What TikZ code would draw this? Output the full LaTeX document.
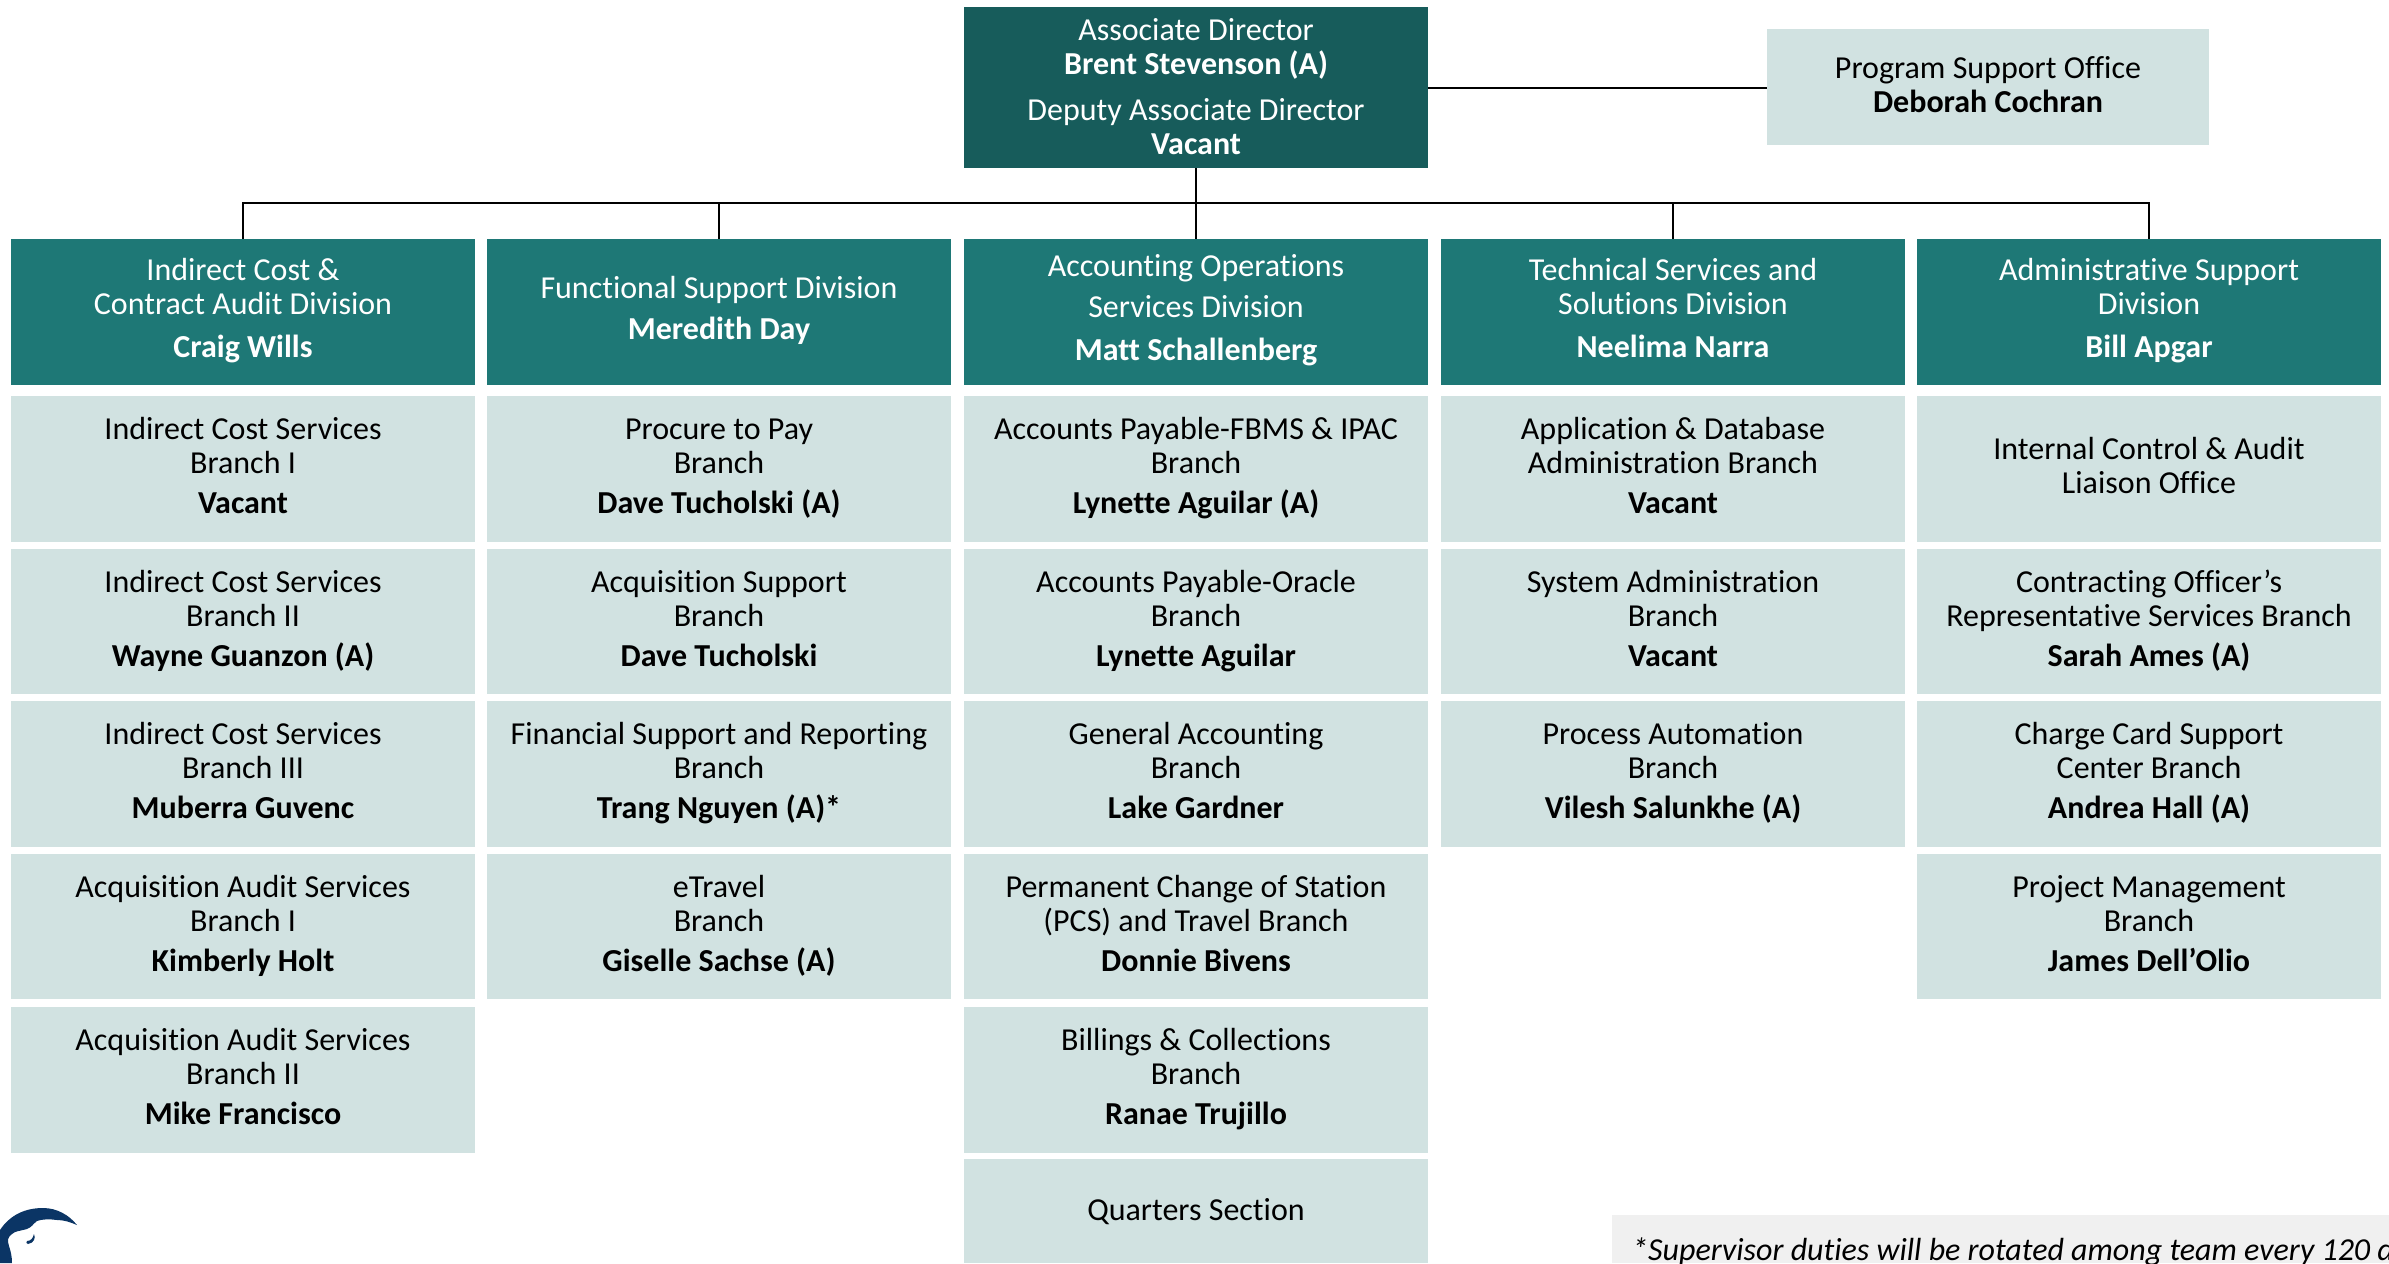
\documentclass[tikz,border=0pt]{standalone}
\usepackage{fontspec}
\setmainfont{Carlito}[Ligatures=NoCommon]
\definecolor{topc}{HTML}{175C5B}
\definecolor{divc}{HTML}{1E7876}
\definecolor{brc}{HTML}{D1E2E1}
\definecolor{notec}{HTML}{F0F0F0}
\definecolor{logoc}{HTML}{0B3565}
\newcommand{\nm}[1]{\\[6pt]\textbf{#1}}
\newcommand{\dnm}[1]{\\[9pt]\textbf{#1}}
\newcommand{\topst}{\rule{0pt}{24pt}}
\newcommand{\botst}[1]{\rule[-#1pt]{0pt}{#1pt}}
\tikzset{
 x=1pt,y=-1pt,
 boxbase/.style={anchor=north west,inner sep=0pt,outer sep=0pt,align=center,minimum width=464pt,
   font=\fontsize{32}{34}\selectfont,execute at begin node=\topst},
 topbox/.style={boxbase,fill=topc,text=white,minimum height=161pt,execute at end node=\botst{3}},
 divbox/.style={boxbase,fill=divc,text=white,minimum height=146pt,execute at end node=\botst{9}},
 brbox/.style={boxbase,fill=brc,text=black,minimum height=145.5pt,execute at end node=\botst{6}},
 lnk/.style={draw=black,line width=1.5pt},
}
\begin{document}
\begin{tikzpicture}
\useasboundingbox (0,0) rectangle (2389,1263);
\clip (0,0) rectangle (2389,1263);
\node[topbox] (top) at (964,7) {Associate Director\\\textbf{Brent Stevenson (A)}\\[12pt]Deputy Associate Director\\\textbf{Vacant}};
\node[brbox,minimum width=442pt,minimum height=116pt] (pso) at (1767,29) {Program Support Office\\\textbf{Deborah Cochran}};
\node[divbox] (d1) at (11,239) {Indirect Cost \&\\Contract Audit Division\dnm{Craig Wills}};
\node[divbox] (d2) at (487,239) {Functional Support Division\\[7pt]\textbf{Meredith Day}};
\node[divbox] (d3) at (964,239) {Accounting Operations\\[7pt]Services Division\dnm{Matt Schallenberg}};
\node[divbox] (d4) at (1441,239) {Technical Services and\\Solutions Division\dnm{Neelima Narra}};
\node[divbox] (d5) at (1917,239) {Administrative Support\\Division\dnm{Bill Apgar}};
\coordinate (bus) at (1196,203);
\draw[lnk,line width=2pt] (top.east) -- (pso.west |- top.east);
\draw[lnk] (top.south) -- (d3.north);
\draw[lnk,line width=2pt] (d1.north) |- (bus) -| (d5.north);
\draw[lnk] (d2.north) -- (d2.north |- bus);
\draw[lnk] (d4.north) -- (d4.north |- bus);
% column 1
\node[brbox] (a1) at (11,396) {Indirect Cost Services\\Branch I\nm{Vacant}};
\node[brbox] (a2) at (11,548.5) {Indirect Cost Services\\Branch II\nm{Wayne Guanzon (A)}};
\node[brbox] (a3) at (11,701) {Indirect Cost Services\\Branch III\nm{Muberra Guvenc}};
\node[brbox] (a4) at (11,853.5) {Acquisition Audit Services\\Branch I\nm{Kimberly Holt}};
\node[brbox] (a5) at (11,1007) {Acquisition Audit Services\\Branch II\nm{Mike Francisco}};
% column 2
\node[brbox] (b1) at (487,396) {Procure to Pay\\Branch\nm{Dave Tucholski (A)}};
\node[brbox] (b2) at (487,548.5) {Acquisition Support\\Branch\nm{Dave Tucholski}};
\node[brbox] (b3) at (487,701) {Financial Support and Reporting\\Branch\nm{Trang Nguyen (A)*}};
\node[brbox] (b4) at (487,853.5) {eTravel\\Branch\nm{Giselle Sachse (A)}};
% column 3
\node[brbox] (c1) at (964,396) {Accounts Payable-FBMS \& IPAC\\Branch\nm{Lynette Aguilar (A)}};
\node[brbox] (c2) at (964,548.5) {Accounts Payable-Oracle\\Branch\nm{Lynette Aguilar}};
\node[brbox] (c3) at (964,701) {General Accounting\\Branch\nm{Lake Gardner}};
\node[brbox] (c4) at (964,853.5) {Permanent Change of Station\\(PCS) and Travel Branch\nm{Donnie Bivens}};
\node[brbox] (c5) at (964,1007) {Billings \& Collections\\Branch\nm{Ranae Trujillo}};
\node[brbox,minimum height=104pt] (c6) at (964,1159) {Quarters Section};
% column 4
\node[brbox] (e1) at (1441,396) {Application \& Database\\Administration Branch\nm{Vacant}};
\node[brbox] (e2) at (1441,548.5) {System Administration\\Branch\nm{Vacant}};
\node[brbox] (e3) at (1441,701) {Process Automation\\Branch\nm{Vilesh Salunkhe (A)}};
% column 5
\node[brbox] (f1) at (1917,396) {Internal Control \& Audit\\Liaison Office};
\node[brbox] (f2) at (1917,548.5) {Contracting Officer’s\\Representative Services Branch\nm{Sarah Ames (A)}};
\node[brbox] (f3) at (1917,701) {Charge Card Support\\Center Branch\nm{Andrea Hall (A)}};
\node[brbox] (f4) at (1917,853.5) {Project Management\\Branch\nm{James Dell’Olio}};
% note
\fill[notec] (1612,1215) rectangle (2389,1263);
\node[anchor=base west,inner sep=0pt,font=\fontsize{32}{34}\selectfont\itshape] (note) at (1632,1260) {*Supervisor duties will be rotated among team every 120 days};
% logo
\fill[logoc] (0,1263) -- (0,1230) .. controls (10,1215) and (25,1208) .. (43,1208) .. controls (57,1208) and (69,1215) .. (77,1225) .. controls (70,1222) and (64,1220) .. (57,1220) .. controls (50,1219) and (42,1219) .. (37,1221) .. controls (33,1224) and (32,1227) .. (27,1229) .. controls (20,1231) and (15,1231) .. (12,1234) .. controls (8,1237) and (7,1240) .. (9,1246) .. controls (11,1252) and (12,1257) .. (12,1263) -- cycle;
\fill[logoc] (34,1234) .. controls (36,1238) and (34,1243) .. (28,1244) .. controls (26,1244) and (26,1242) .. (27,1241) .. controls (31,1241) and (33,1238) .. (34,1234) -- cycle;
\end{tikzpicture}
\end{document}
